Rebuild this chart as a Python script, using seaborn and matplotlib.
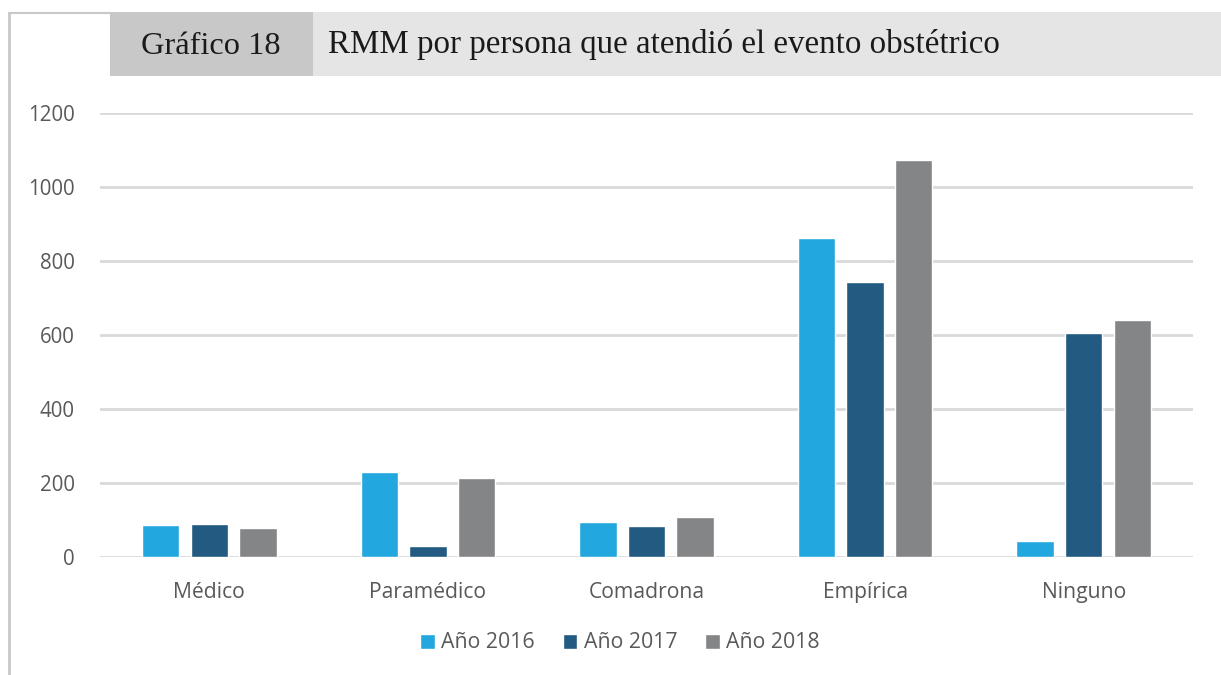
import matplotlib
matplotlib.use("Agg")
import matplotlib.pyplot as plt
from matplotlib.patches import Rectangle
from matplotlib.lines import Line2D
import pandas as pd
import seaborn as sns

# Data
categories = ["Médico", "Paramédico", "Comadrona", "Empírica", "Ninguno"]
series_names = ["Año 2016", "Año 2017", "Año 2018"]
values_2016 = [86, 230, 94, 861, 43]
values_2017 = [90, 30, 83, 743, 605]
values_2018 = [78, 214, 108, 1074, 640]
y_ticks = [0, 200, 400, 600, 800, 1000, 1200]

colors = ["#23a7df", "#235a82", "#848587"]

rows = []
for name, vals in zip(series_names, [values_2016, values_2017, values_2018]):
    for cat, v in zip(categories, vals):
        rows.append({"categoria": cat, "serie": name, "valor": v})
df = pd.DataFrame(rows)

sns.set_theme(style="white")
plt.rcParams["font.family"] = ["Open Sans", "DejaVu Sans"]

W, H = 1221, 675
fig = plt.figure(figsize=(W / 100, H / 100), dpi=100)
fig.patch.set_facecolor("white")

def fx(px):
    return px / W

def fy(py):
    return 1 - py / H

ax = fig.add_axes([fx(100), fy(557), fx(1193) - fx(100), fy(113) - fy(557)])

sns.barplot(
    data=df, x="categoria", y="valor", hue="serie",
    order=categories, hue_order=series_names,
    palette=colors, width=0.666, gap=0.23, saturation=1,
    ax=ax, legend=True,
)

ax.set_ylim(0, 1200)
ax.set_xlim(-0.5, len(categories) - 0.5)
ax.set_yticks(y_ticks)
ax.set_yticklabels([str(t) for t in y_ticks])
ax.set_xlabel("")
ax.set_ylabel("")
ax.yaxis.grid(True, color="#d9d9d9", linewidth=2)
ax.set_axisbelow(True)
for sp in ax.spines.values():
    sp.set_visible(False)
ax.tick_params(axis="both", length=0, labelcolor="#595959")
ax.tick_params(axis="y", pad=18, labelsize=14.8)
ax.tick_params(axis="x", pad=18, labelsize=15.2)

leg = ax.legend(
    loc="center", bbox_to_anchor=(fx(620), fy(643)), bbox_transform=fig.transFigure,
    ncol=3, frameon=False, fontsize=15.3, handlelength=0.7, handleheight=0.7,
    handletextpad=0.3, columnspacing=1.3,
)
for t in leg.get_texts():
    t.set_color("#595959")

# frame lines on the left and top-left
fig.add_artist(Line2D([fx(9), fx(9)], [fy(13), 0], color="#c8c8c8", linewidth=2))
fig.add_artist(Line2D([fx(9), fx(110)], [fy(13), fy(13)], color="#c8c8c8", linewidth=1.5))

# header boxes
fig.add_artist(Rectangle((fx(110), fy(76)), fx(313) - fx(110), fy(12) - fy(76),
                         transform=fig.transFigure, facecolor="#c8c8c8", edgecolor="none"))
fig.add_artist(Rectangle((fx(313), fy(76)), 1 - fx(313), fy(12) - fy(76),
                         transform=fig.transFigure, facecolor="#e5e5e5", edgecolor="none"))

serif = ["Liberation Serif", "DejaVu Serif"]
fig.text(fx(211), fy(47), "Gráfico 18", ha="center", va="center",
         fontsize=23.3, family=serif, color="#1a1a1a")
fig.text(fx(328), fy(45), "RMM por persona que atendió el evento obstétrico",
         ha="left", va="center", fontsize=23.8, family=serif, color="#1a1a1a")

fig.savefig("out.png", dpi=100, facecolor="white")
